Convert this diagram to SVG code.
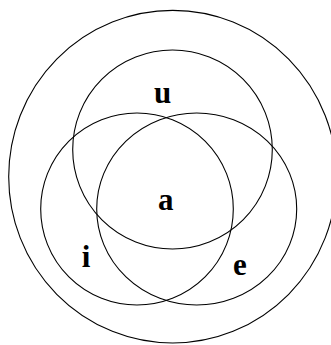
<svg xmlns="http://www.w3.org/2000/svg" width="331" height="345" viewBox="0 0 331 345">
<style>
.c{fill:none;stroke:#000;stroke-width:1.1}
.t{font-family:"Liberation Serif","Times New Roman",serif;font-weight:bold;font-size:31px;text-anchor:middle;fill:#000}
</style>
<rect width="331" height="345" fill="#fff"/>
<g id="outer"><ellipse class="c" cx="172.7" cy="176.7" rx="164" ry="166.3"/></g>
<g id="set-u"><ellipse class="c" cx="172.5" cy="149.5" rx="99.8" ry="99.5"/><text class="t" x="162.5" y="103">u</text></g>
<g id="set-i"><ellipse class="c" cx="137" cy="209" rx="96.3" ry="96"/><text class="t" x="86" y="267">i</text></g>
<g id="set-e"><ellipse class="c" cx="196.7" cy="209" rx="100" ry="96"/><text class="t" x="240" y="275">e</text></g>
<g id="center-a"><text class="t" x="165.7" y="210">a</text></g>
</svg>
